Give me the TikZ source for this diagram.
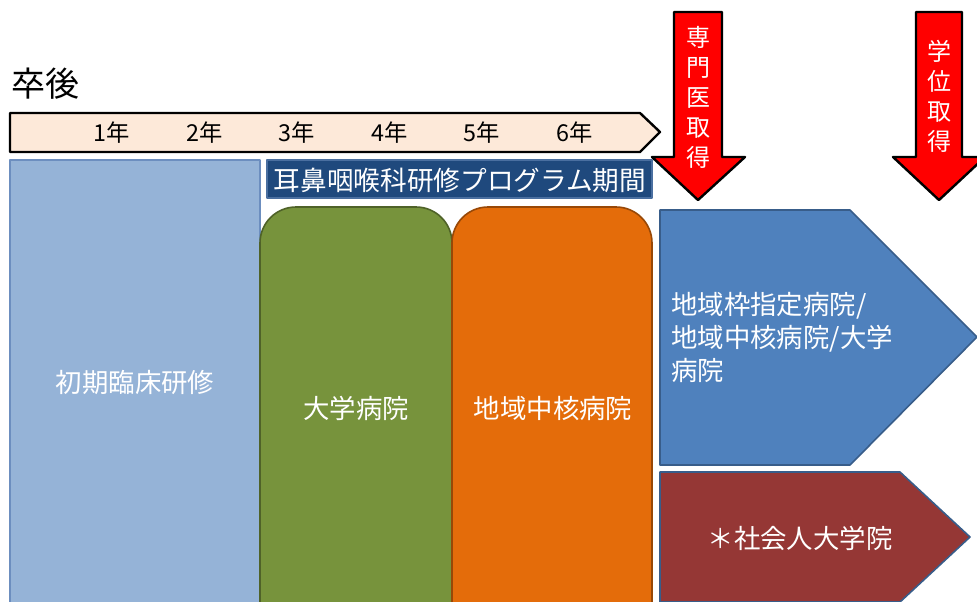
\documentclass[tikz,border=0pt]{standalone}
\usepackage{fontspec}
\setmainfont{Noto Sans CJK JP}
\usetikzlibrary{calc}

\definecolor{peach}{HTML}{FDE9D9}
\definecolor{shokiblue}{HTML}{95B3D7}
\definecolor{shokiline}{HTML}{6C8EBF}
\definecolor{bannerblue}{HTML}{1F497D}
\definecolor{bannerline}{HTML}{4A6FA0}
\definecolor{daigakugreen}{HTML}{77933C}
\definecolor{daigakuline}{HTML}{4F6228}
\definecolor{chikuorange}{HTML}{E46C0A}
\definecolor{chikuline}{HTML}{984807}
\definecolor{kyotenblue}{HTML}{4F81BD}
\definecolor{kyotenline}{HTML}{385D8A}
\definecolor{shakaired}{HTML}{953735}

\begin{document}
\begin{tikzpicture}[line join=round,x=0.75pt,y=-0.75pt,
  boxtext/.style={text=white,font=\fontsize{19.8}{23}\selectfont,inner sep=0pt},
  yeartext/.style={text=black,font=\fontsize{17.5}{20}\selectfont,inner sep=0pt},
  arrowtext/.style={text=white,font=\fontsize{18}{22.5}\selectfont,align=center,inner sep=0pt},
  redarrow/.style={fill=red,draw=black,line width=1.8pt}]
\useasboundingbox (0,0) rectangle (977,601);
\clip (0,0) rectangle (977,601);

% title
\node[text=black,font=\fontsize{25.5}{30}\selectfont,anchor=west,inner sep=0pt] (sotsugo) at (11,84) {卒後};

% time line
\draw[fill=peach,draw=black,line width=1.8pt]
  (10,113) -- (640,113) -- (660,132) -- (640,152) -- (10,152) -- cycle;
\foreach \n [count=\i] in {112,205,297,390,482,575}
  \node[yeartext] (year\i) at (\n,133) {\i 年};

% first two years
\draw[fill=shokiblue,draw=shokiline,line width=1.2pt] (10,160) rectangle (260,640);
\node[boxtext] (shoki) at (135,382) {初期臨床研修};

% program period
\draw[fill=bannerblue,draw=bannerline,line width=1pt] (267,160) rectangle (652,198);
\node[boxtext,font=\fontsize{20}{23}\selectfont] (program) at (460,180) {耳鼻咽喉科研修プログラム期間};

\draw[fill=daigakugreen,draw=daigakuline,line width=1.2pt,rounded corners=27pt] (260,207) rectangle (452,660);
\node[boxtext] (daigaku) at (356,408) {大学病院};

\draw[fill=chikuorange,draw=chikuline,line width=1.2pt,rounded corners=27pt] (452,207) rectangle (652,660);
\node[boxtext] (chiiki) at (553,408) {地域中核病院};

% after the program
\draw[fill=kyotenblue,draw=kyotenline,line width=1.2pt]
  (660,210) -- (850,210) -- (977,337) -- (850,465) -- (660,465) -- cycle;
\node[boxtext,anchor=west,align=left,font=\fontsize{19.8}{24.75}\selectfont] (kyoten) at (671,337)
  {地域枠指定病院/\\地域中核病院/大学\\病院};

\draw[fill=shakaired,draw=kyotenline,line width=1.2pt]
  (660,472) -- (900,472) -- (970,537) -- (900,602) -- (660,602) -- (660,640) -- cycle;
\node[boxtext] (shakai) at (800,538) {＊社会人大学院};

% red arrows
\draw[redarrow] (674,12) -- (722,12) -- (722,157) -- (745,157) -- (698,200)
  -- (652,157) -- (674,157) -- cycle;
\node[arrowtext] (senmon) at (698,97) {専\\門\\医\\取\\得};

\draw[redarrow] (916,12) -- (962,12) -- (962,157) -- (985,157) -- (939,200)
  -- (893,157) -- (916,157) -- cycle;
\node[arrowtext] (gakui) at (939,96) {学\\位\\取\\得};

\end{tikzpicture}
\end{document}
